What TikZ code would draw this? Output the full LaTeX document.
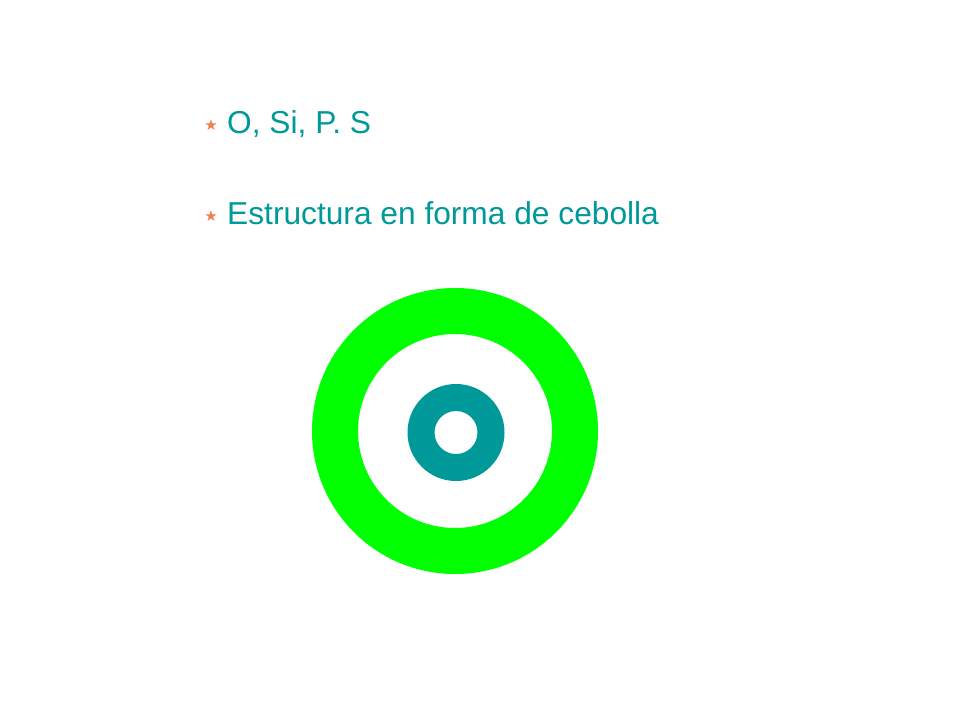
\documentclass[tikz,border=0pt]{standalone}
\usepackage{fontspec}
\setmainfont{Liberation Sans}
\newfontfamily\symfont{DejaVu Sans}
\definecolor{tealtext}{RGB}{0,153,153}
\definecolor{ringgreen}{RGB}{0,255,0}
\definecolor{ringteal}{RGB}{0,153,153}
\definecolor{starorange}{RGB}{240,128,80}
\begin{document}
\begin{tikzpicture}[x=1pt,y=-1pt,
  itemtext/.style={anchor=base west, inner sep=0pt, text=tealtext, font=\fontsize{31.7}{36}\selectfont},
  staritem/.style={inner sep=0pt, text=starorange, font=\symfont\fontsize{15}{17}\selectfont}]
\useasboundingbox (0,0) rectangle (960,720);
\fill[white] (0,0) rectangle (960,720);
% bullets
\node[staritem] (s1) at (211,125.5) {★};
\node[itemtext] (t1) at (227,133) {O, Si, P.\ S};
\node[staritem] (s2) at (211,216.5) {★};
\node[itemtext] (t2) at (227,224) {Estructura en forma de cebolla};
% rings
\fill[ringgreen, even odd rule] (455,431) circle[radius=143] (455,431) circle[radius=97];
\fill[ringteal, even odd rule] (456,432.5) circle[radius=48.5] (456,432.5) circle[radius=21.5];
\end{tikzpicture}
\end{document}
